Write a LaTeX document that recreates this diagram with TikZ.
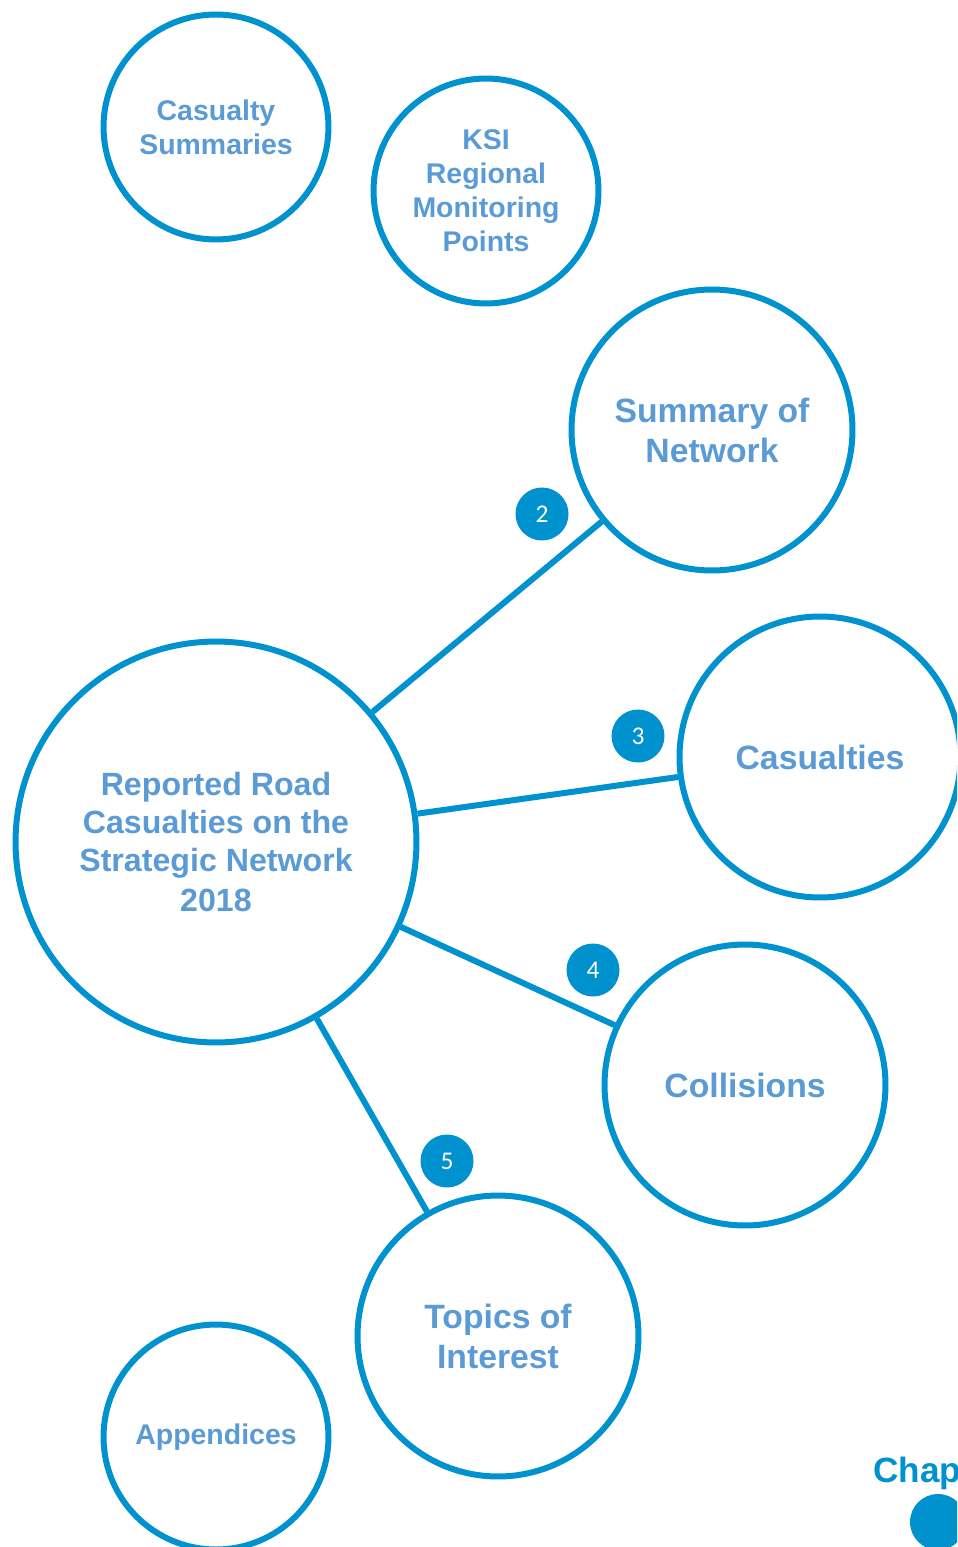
\documentclass[tikz,border=0pt]{standalone}
\usepackage{fontspec}
\setmainfont{Liberation Sans}
\newfontfamily\numfont{Carlito}
\definecolor{ringblue}{HTML}{0091CF}
\definecolor{labelblue}{HTML}{5B9BD5}
\begin{document}
\begin{tikzpicture}[x=0.02cm,y=-0.02cm,
    ring/.style={circle,draw=ringblue,line width=0.12cm,text=labelblue,align=center,inner sep=0pt},
    smallring/.style={ring,minimum size=4.5cm,font=\fontsize{16.2}{19.3}\selectfont\bfseries},
    midring/.style={ring,minimum size=5.62cm,font=\fontsize{19.2}{22.7}\selectfont\bfseries},
    hubring/.style={ring,minimum size=8.02cm,font=\fontsize{18.3}{21.5}\selectfont\bfseries},
    badge/.style={circle,fill=ringblue,text=white,minimum size=1.06cm,inner sep=0pt,font=\numfont\fontsize{14.5}{14.5}\selectfont},
    link/.style={draw=ringblue,line width=0.12cm}]
    \useasboundingbox (0,0) rectangle (957,1547);
    \clip (0,0) rectangle (957,1547);
    % chapters round the main title
    \node[hubring] (hub) at (216,842) {Reported Road\\Casualties on the\\Strategic Network\\[1pt]2018};
    \node[midring] (net) at (712,430) {Summary of\\Network};
    \node[midring] (cas) at (820,757) {Casualties};
    \node[midring] (col) at (745,1085) {Collisions};
    \node[midring] (top) at (498,1336) {Topics of\\Interest};
    % loose circles
    \node[smallring] (sum) at (216,127) {Casualty\\Summaries};
    \node[smallring] (ksi) at (486,191) {KSI\\Regional\\Monitoring\\Points};
    \node[smallring] (app) at (216,1437) {Appendices};
    \path (hub) edge[link] (net);
    \path (hub) edge[link] (cas);
    \path (hub) edge[link] (col);
    \path (hub) edge[link] (top);
    % chapter numbers
    \foreach \n/\x/\y in {2/542/514,3/638/736,4/593/970,5/447/1161}
        \node[badge] (b\n) at (\x,\y) {\n};
    \node[anchor=base west,text=ringblue,font=\fontsize{20}{20}\selectfont\bfseries] (chap) at (867,1482) {Chap};
    \node[circle,fill=ringblue,minimum size=1.12cm,inner sep=0pt] (chapdot) at (938,1522) {};
\end{tikzpicture}
\end{document}
